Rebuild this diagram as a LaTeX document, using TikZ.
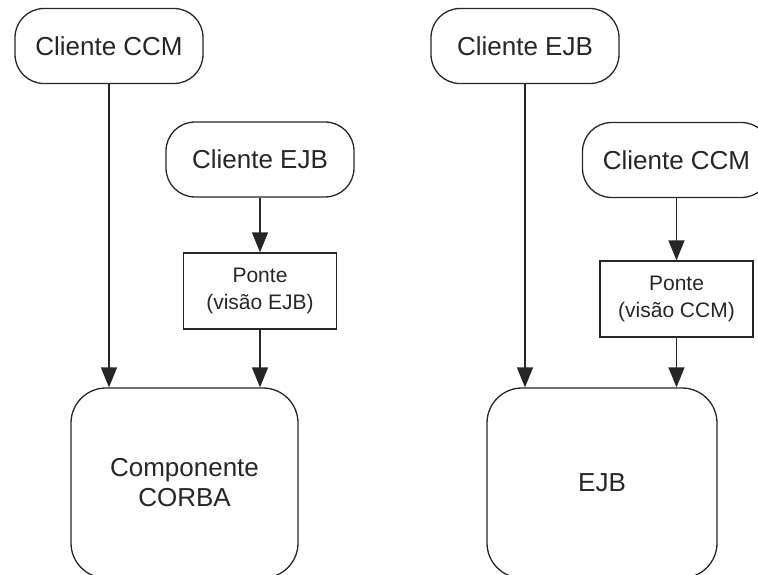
\documentclass[tikz,border=0pt]{standalone}
\usepackage{fontspec}
\setmainfont{Liberation Sans}
\usetikzlibrary{arrows.meta}
\begin{document}
\begin{tikzpicture}[x=1pt,y=-1pt,
  every node/.style={text=black!85, align=center},
  client/.style={draw=black!85, line width=1.3pt, rounded corners=29pt,
    minimum width=188pt, minimum height=75pt, inner sep=0pt,
    font=\fontsize{26}{30}\selectfont},
  bridge/.style={draw=black!85, line width=1.3pt,
    minimum width=153pt, minimum height=76pt, inner sep=0pt,
    font=\fontsize{21}{27}\selectfont},
  component/.style={draw=black!85, line width=1.3pt, rounded corners=35pt,
    minimum height=190pt, inner sep=0pt,
    font=\fontsize{26}{30}\selectfont},
  flow/.style={draw=black!85, line width=1.3pt,
    -{Triangle[length=20pt,width=16pt]}}]
\useasboundingbox (0,0) rectangle (758,575);

% CCM client and EJB client calling a CORBA component
\node[client] (ccmL) at (109,46) {Cliente CCM};
\node[client] (ejbL) at (260,159.5) {Cliente EJB};
\node[bridge] (ponteL) at (260,291) {Ponte\\(visão EJB)};
\node[component, minimum width=227pt] (corba) at (184.5,483) {Componente\\CORBA};

\draw[flow] (ccmL.south) -- (ccmL.south |- corba.north);
\draw[flow] (ejbL.south) -- (ponteL.north);
\draw[flow] (ponteL.south) -- (ponteL.south |- corba.north);

% EJB client and CCM client calling an EJB
\node[client] (ejbR) at (525,46) {Cliente EJB};
\node[client] (ccmR) at (676.5,160) {Cliente CCM};
\node[bridge] (ponteR) at (676.5,299) {Ponte\\(visão CCM)};
\node[component, minimum width=230pt] (ejb) at (602,483) {EJB};

\draw[flow] (ejbR.south) -- (ejbR.south |- ejb.north);
\draw[flow] (ccmR.south) -- (ponteR.north);
\draw[flow] (ponteR.south) -- (ponteR.south |- ejb.north);
\end{tikzpicture}
\end{document}
